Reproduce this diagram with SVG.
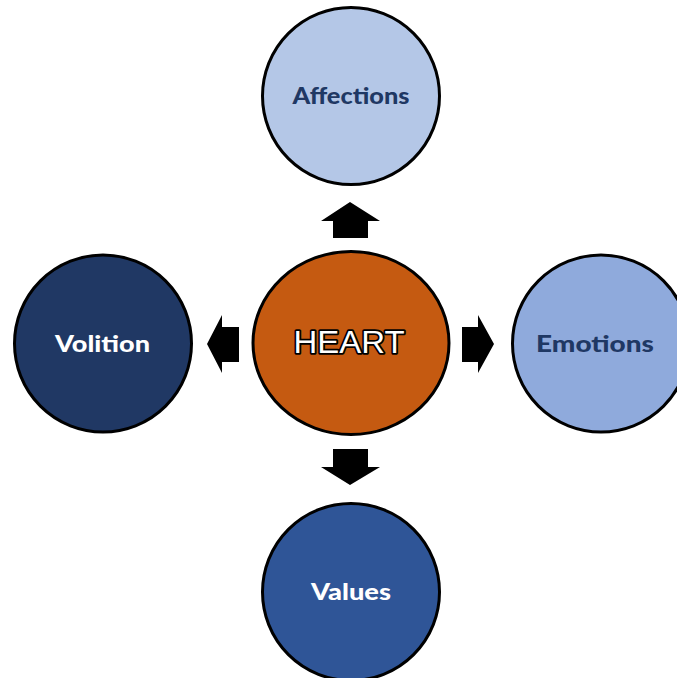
<svg xmlns="http://www.w3.org/2000/svg" width="677" height="678" viewBox="0 0 677 678">
<style>
.n{stroke:#000;stroke-width:3}
.lbl{font-family:Lato,"Open Sans","Liberation Sans",sans-serif;font-weight:900;font-size:22px;text-anchor:middle}
.dark{fill:#1F3864}
.light{fill:#FFFFFF}
.heart{font-family:"Liberation Sans",Arial,sans-serif;font-size:32px;fill:#fff;stroke:#000;stroke-width:3.5;paint-order:stroke;stroke-linejoin:round;text-anchor:middle}
.arr{fill:#000}
</style>
<rect width="677" height="678" fill="#fff"/>
<g id="connectors">
<polygon class="arr" points="350,202 380,221 368,221 368,238 333,238 333,221 321,221"/>
<polygon class="arr" points="350,485 380,467 368,467 368,449 333,449 333,467 321,467"/>
<polygon class="arr" points="494,344 478,315 478,327 462,327 462,362 478,362 478,373"/>
<polygon class="arr" points="207,344 222,315 222,327 239,327 239,362 222,362 222,373"/>
</g>
<g id="affections">
<circle class="n" cx="351" cy="96" r="88.5" fill="#B4C7E7"/>
<text class="lbl dark" x="351" y="104" textLength="117" lengthAdjust="spacingAndGlyphs">Affections</text>
</g>
<g id="volition">
<circle class="n" cx="103" cy="343.5" r="88.5" fill="#203864"/>
<text class="lbl light" x="102.5" y="352" textLength="95" lengthAdjust="spacingAndGlyphs">Volition</text>
</g>
<g id="emotions">
<circle class="n" cx="601" cy="343.5" r="88.5" fill="#8FAADC"/>
<text class="lbl dark" x="595" y="352" textLength="118" lengthAdjust="spacingAndGlyphs">Emotions</text>
</g>
<g id="values">
<circle class="n" cx="351" cy="592" r="88.5" fill="#2F5597"/>
<text class="lbl light" x="351" y="599.5" textLength="80" lengthAdjust="spacingAndGlyphs">Values</text>
</g>
<g id="heart">
<ellipse class="n" cx="351" cy="343" rx="98" ry="91.5" fill="#C55A11"/>
<text class="heart" x="349" y="353" textLength="111" lengthAdjust="spacingAndGlyphs">HEART</text>
</g>
</svg>
